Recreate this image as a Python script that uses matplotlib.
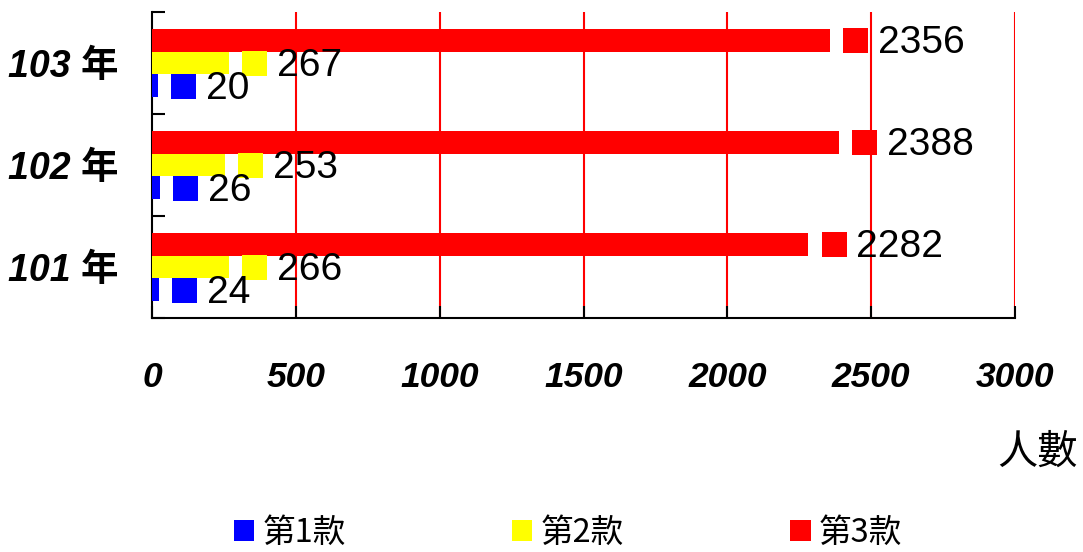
import matplotlib
matplotlib.use('Agg')
import matplotlib.pyplot as plt
from matplotlib.patches import Patch
from matplotlib.transforms import offset_copy

years = ['101 年', '102 年', '103 年']
series_names = ['第1款', '第2款', '第3款']
colors = ['#0000ff', '#ffff00', '#ff0000']
kuan1 = [24, 26, 20]
kuan2 = [266, 253, 267]
kuan3 = [2282, 2388, 2356]
xticks = [0, 500, 1000, 1500, 2000, 2500, 3000]

plt.rcParams['font.family'] = ['Liberation Sans', 'Noto Sans CJK TC', 'DejaVu Sans']

fig = plt.figure(figsize=(10.83, 5.52), dpi=100)
ax = fig.add_axes([0.1404, 0.4239, 0.7968, 0.5543])

bar_h = 0.222
offsets = [-0.222, 0.0, 0.222]   # blue bottom, yellow middle, red top
values = [kuan1, kuan2, kuan3]
ypos = list(range(len(years)))

key_tr = offset_copy(ax.transData, fig=fig, x=25.5, y=0, units='dots')
txt_tr = offset_copy(ax.transData, fig=fig, x=48, y=-3, units='dots')

for vals, off, c in zip(values, offsets, colors):
    ys = [y + off for y in ypos]
    ax.barh(ys, vals, height=bar_h, color=c, zorder=3)
    for v, y in zip(vals, ys):
        # legend key next to each label
        ax.plot([v], [y], marker='s', markersize=18, color=c, markeredgewidth=0,
                transform=key_tr, zorder=4, clip_on=False)
        ax.text(v, y, str(v), transform=txt_tr, fontsize=28, va='center',
                ha='left', zorder=5)

ax.set_xlim(0, 3000)
ax.set_ylim(-0.5, 2.5)
ax.set_xticks(xticks)
ax.set_xticklabels([str(t) for t in xticks], fontsize=25.5, fontweight='bold',
                   fontstyle='italic')
ax.tick_params(axis='x', direction='in', length=9, width=1.5, pad=31)

ax.set_yticks([-0.5, 0.5, 1.5, 2.5])
ax.set_yticklabels([])
ax.tick_params(axis='y', which='major', direction='in', length=9, width=1.5)
ax.set_yticks(ypos, minor=True)
ax.set_yticklabels(years, minor=True, fontsize=27, fontweight='bold',
                   fontstyle='italic')
ax.tick_params(axis='y', which='minor', length=0, pad=24)

for x in xticks[1:]:
    ax.axvline(x, color='#ff0000', lw=1.5, zorder=1)

ax.spines['top'].set_visible(False)
ax.spines['right'].set_visible(False)
ax.spines['left'].set_linewidth(1.5)
ax.spines['bottom'].set_linewidth(1.5)

fig.text(1078 / 1083, 1 - 452 / 552, '人數', fontsize=29, ha='right', va='center',
         family=['Noto Sans CJK TC', 'DejaVu Sans'])

handles = [Patch(facecolor=c, edgecolor='none') for c in colors]
fig.legend(handles, series_names, loc='center', bbox_to_anchor=(568 / 1083, 0.034),
           ncol=3, frameon=False, handlelength=0.62, handleheight=0.62,
           handletextpad=0.25, columnspacing=5.1,
           prop={'family': ['Noto Sans CJK TC', 'DejaVu Sans'], 'size': 23.5})

fig.savefig('out.png', dpi=100)
